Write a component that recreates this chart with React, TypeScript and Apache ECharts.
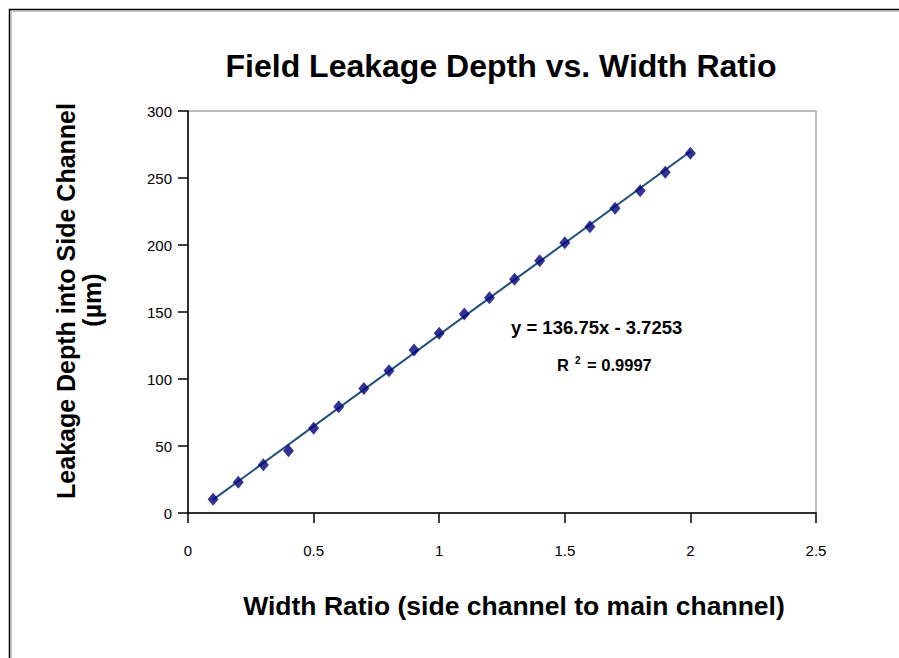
import React, { useEffect, useRef } from "react";
import * as echarts from "echarts";

const widthRatio = [0.1, 0.2, 0.3, 0.4, 0.5, 0.6, 0.7, 0.8, 0.9, 1.0, 1.1, 1.2, 1.3, 1.4, 1.5, 1.6, 1.7, 1.8, 1.9, 2.0];
const leakageDepth = [10.2, 22.9, 36.0, 46.5, 63.2, 79.3, 93.0, 106.2, 121.6, 134.1, 148.5, 160.7, 174.4, 188.3, 201.7, 213.7, 227.4, 240.5, 254.2, 268.5];
const trendX = [0.1, 2.0];
const trendY = [9.95, 269.8];
const xTicks = { min: 0, max: 2.5, interval: 0.5 };
const yTicks = { min: 0, max: 300, interval: 50 };

const titleText = "Field Leakage Depth vs. Width Ratio";
const xName = "Width Ratio (side channel to main channel)";
const yName1 = "Leakage Depth into Side Channel";
const yName2 = "(\u00b5m)";
const eqText = "y = 136.75x - 3.7253";
const r2Value = "0.9997";

const FONT = "'Liberation Sans', Arial, sans-serif";

export default function App() {
  const ref = useRef<HTMLDivElement>(null);
  useEffect(() => {
    if (!ref.current) return;
    const chart = echarts.init(ref.current, undefined, { renderer: "svg" });
    chart.setOption({
      animation: false,
      backgroundColor: "#ffffff",
      title: {
        text: titleText,
        left: 496,
        top: 45,
        textAlign: "center",
        textStyle: { fontFamily: FONT, fontWeight: "bold", fontSize: 32, color: "#000" },
      },
      grid: {
        left: 188,
        top: 111,
        right: 83,
        bottom: 145,
        show: true,
        borderColor: "#a6a6a6",
        borderWidth: 1.5,
        backgroundColor: "transparent",
      },
      xAxis: {
        type: "value",
        min: xTicks.min,
        max: xTicks.max,
        interval: xTicks.interval,
        axisLine: { show: true, onZero: false, lineStyle: { color: "#000", width: 1.5 } },
        axisTick: { show: true, length: 10, inside: false, lineStyle: { color: "#000", width: 1.5 } },
        axisLabel: { fontFamily: FONT, fontSize: 15, color: "#000", margin: 30 },
        splitLine: { show: false },
      },
      yAxis: {
        type: "value",
        min: yTicks.min,
        max: yTicks.max,
        interval: yTicks.interval,
        axisLine: { show: true, onZero: false, lineStyle: { color: "#000", width: 1.5 } },
        axisTick: { show: true, length: 10, inside: false, lineStyle: { color: "#000", width: 1.5 } },
        axisLabel: { fontFamily: FONT, fontSize: 15, color: "#000", margin: 16 },
        splitLine: { show: false },
      },
      series: [
        {
          type: "line",
          data: trendX.map((x, i) => [x, trendY[i]]),
          showSymbol: false,
          symbol: "none",
          lineStyle: { color: "#1f4e79", width: 2 },
          z: 2,
        },
        {
          type: "scatter",
          data: widthRatio.map((x, i) => [x, leakageDepth[i]]),
          symbol: "diamond",
          symbolSize: [11, 13],
          itemStyle: { color: "#00007a" },
          z: 3,
        },
      ],
      graphic: [
        {
          type: "rect",
          shape: { x: 9.5, y: 9.5, width: 1000, height: 1000 },
          style: { fill: "none", stroke: "#000", lineWidth: 1.5 },
          silent: true,
        },
        {
          type: "rect",
          shape: { x: 11, y: 11, width: 1000, height: 1000 },
          style: { fill: "none", stroke: "#9a9a9a", lineWidth: 1 },
          silent: true,
        },
        {
          type: "text",
          x: 514,
          y: 606,
          style: {
            text: xName,
            fontFamily: FONT,
            fontWeight: "bold",
            fontSize: 26.5,
            fill: "#000",
            align: "center",
            verticalAlign: "middle",
          },
        },
        {
          type: "text",
          x: 66,
          y: 301,
          rotation: Math.PI / 2,
          style: {
            text: yName1,
            fontFamily: FONT,
            fontWeight: "bold",
            fontSize: 25,
            fill: "#000",
            align: "center",
            verticalAlign: "middle",
          },
        },
        {
          type: "text",
          x: 92,
          y: 300,
          rotation: Math.PI / 2,
          style: {
            text: yName2,
            fontFamily: FONT,
            fontWeight: "bold",
            fontSize: 25,
            fill: "#000",
            align: "center",
            verticalAlign: "middle",
          },
        },
        {
          type: "text",
          x: 511,
          y: 327,
          style: {
            text: eqText,
            fontFamily: FONT,
            fontWeight: "bold",
            fontSize: 18.5,
            fill: "#000",
            align: "left",
            verticalAlign: "middle",
          },
        },
        {
          type: "text",
          x: 557,
          y: 365,
          style: {
            text: "{r|R}{sup|2}{r| = " + r2Value + "}",
            fontFamily: FONT,
            fontWeight: "bold",
            fontSize: 16.5,
            fill: "#000",
            align: "left",
            verticalAlign: "middle",
            rich: {
              r: { fontFamily: FONT, fontWeight: "bold", fontSize: 16.5, color: "#000" },
              sup: {
                fontFamily: FONT,
                fontWeight: "bold",
                fontSize: 10,
                color: "#1f5fa8",
                verticalAlign: "top",
                padding: [0, 2, 10, 6],
              },
            },
          },
        },
      ],
    });
    return () => chart.dispose();
  }, []);
  return (
    <div
      ref={ref}
      style={{ position: "fixed", left: 0, top: 0, width: 899, height: 658, background: "#fff" }}
    />
  );
}
